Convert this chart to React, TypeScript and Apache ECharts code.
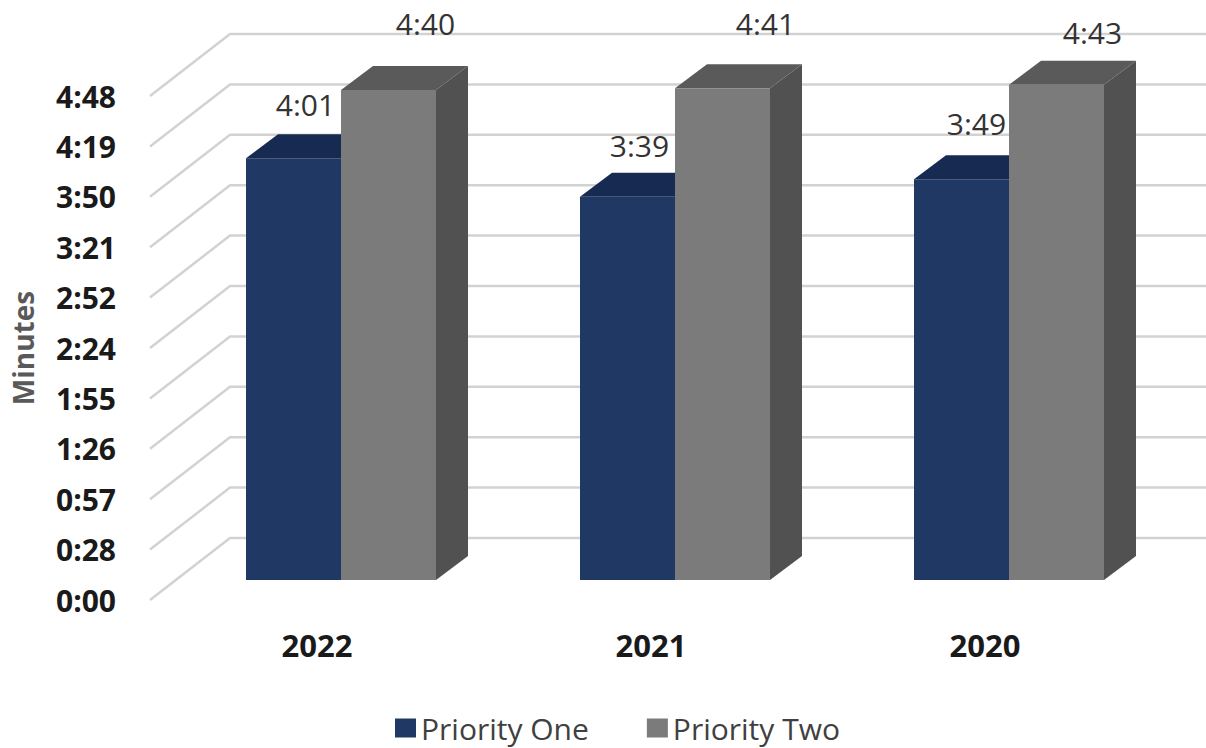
import React, { useEffect, useRef } from "react";
import * as echarts from "echarts";

const categories = ["2022", "2021", "2020"];
const priorityOneSeconds = [241, 219, 229];
const priorityTwoSeconds = [280, 281, 283];
const priorityOneLabels = ["4:01", "3:39", "3:49"];
const priorityTwoLabels = ["4:40", "4:41", "4:43"];
const tickLabels = ["0:00", "0:28", "0:57", "1:26", "1:55", "2:24", "2:52", "3:21", "3:50", "4:19", "4:48"];
const tickStep = 28.8;
const tickValues = tickLabels.map((_, i) => i * tickStep);

// Hand-placed data label nudges, relative to the top centre of each bar's front face
const priorityOneNudge = [[12, -54], [12, -51], [15, -56]];
const priorityTwoNudge = [[37, -67], [43, -65], [36, -52]];

const FONT = "'Open Sans', sans-serif";
const WALL_DX = 80;
const WALL_DY = -62;
const BAR_PLANE_DX = 24;
const BAR_PLANE_DY = -20;
const BAR_W = 95;
const BAR_DX = 32;
const BAR_DY = -24;

function barSeries(
  name: string,
  values: number[],
  labels: string[],
  nudges: number[][],
  side: number,
  colors: { front: string; top: string; side: string },
) {
  return {
    name,
    type: "custom",
    color: colors.front,
    itemStyle: { color: colors.front },
    z: 3 + side,
    data: values.map((v, i) => [i, v]),
    renderItem: (params: any, api: any) => {
      const i = api.value(0);
      const base = api.coord([i, 0]);
      const top = api.coord([i, api.value(1)]);
      const cx = base[0] + BAR_PLANE_DX;
      const x0 = cx + (side === 0 ? -BAR_W : 0);
      const x1 = x0 + BAR_W;
      const yb = base[1] + BAR_PLANE_DY;
      const yt = top[1] + BAR_PLANE_DY;
      const [nx, ny] = nudges[i];
      return {
        type: "group",
        children: [
          {
            type: "polygon",
            shape: { points: [[x0, yt], [x0 + BAR_DX, yt + BAR_DY], [x1 + BAR_DX, yt + BAR_DY], [x1, yt]] },
            style: { fill: colors.top },
          },
          {
            type: "polygon",
            shape: { points: [[x1, yt], [x1 + BAR_DX, yt + BAR_DY], [x1 + BAR_DX, yb + BAR_DY], [x1, yb]] },
            style: { fill: colors.side },
          },
          {
            type: "rect",
            shape: { x: x0, y: yt, width: BAR_W, height: yb - yt },
            style: { fill: colors.front },
          },
          {
            type: "text",
            z2: 10,
            style: {
              x: (x0 + x1) / 2 + nx,
              y: yt + ny,
              text: labels[i],
              align: "center",
              verticalAlign: "middle",
              fill: "#333333",
              font: `400 30px ${FONT}`,
            },
          },
        ],
      };
    },
  };
}

export default function App() {
  const ref = useRef<HTMLDivElement>(null);
  useEffect(() => {
    const chart = echarts.init(ref.current!, undefined, { renderer: "svg" });
    chart.setOption({
      animation: false,
      backgroundColor: "#ffffff",
      grid: { left: 150, right: 54, top: 96, bottom: 148, outerBoundsMode: "none" },
      legend: {
        left: 390,
        top: 708,
        icon: "rect",
        itemWidth: 21,
        itemHeight: 19,
        itemGap: 58,
        data: ["Priority One", "Priority Two"],
        textStyle: { fontFamily: FONT, fontSize: 30, color: "#404040" },
      },
      xAxis: {
        type: "category",
        data: categories,
        axisLine: { show: false },
        axisTick: { show: false },
        axisLabel: { color: "#1a1a1a", fontFamily: FONT, fontWeight: 700, fontSize: 31, margin: 29 },
      },
      yAxis: {
        type: "value",
        min: 0,
        max: tickStep * (tickLabels.length - 1),
        interval: tickStep,
        name: "Minutes",
        nameLocation: "middle",
        nameGap: 113,
        nameTextStyle: { color: "#595959", fontFamily: FONT, fontWeight: 700, fontSize: 28 },
        axisLine: { show: false },
        axisTick: { show: false },
        splitLine: { show: false },
        axisLabel: {
          color: "#1a1a1a",
          fontFamily: FONT,
          fontWeight: 700,
          fontSize: 30,
          margin: 34,
          formatter: (v: number) => tickLabels[Math.round(v / tickStep)],
        },
      },
      series: [
        {
          name: "wall",
          type: "custom",
          z: 1,
          silent: true,
          data: tickValues.map((v) => [0, v]),
          renderItem: (params: any, api: any) => {
            const sys = params.coordSys;
            const y = api.coord([0, api.value(1)])[1];
            return {
              type: "polyline",
              shape: {
                points: [
                  [sys.x, y],
                  [sys.x + WALL_DX, y + WALL_DY],
                  [sys.x + sys.width + 54, y + WALL_DY],
                ],
              },
              style: { fill: "none", stroke: "#d2d2d2", lineWidth: 2.5 },
            };
          },
        },
        barSeries("Priority One", priorityOneSeconds, priorityOneLabels, priorityOneNudge, 0, {
          front: "#203864",
          top: "#172b52",
          side: "#172b52",
        }),
        barSeries("Priority Two", priorityTwoSeconds, priorityTwoLabels, priorityTwoNudge, 1, {
          front: "#7b7b7b",
          top: "#5a5a5a",
          side: "#515151",
        }),
      ],
    });
    return () => chart.dispose();
  }, []);
  return <div ref={ref} style={{ position: "absolute", left: 0, top: 0, width: 1206, height: 748 }} />;
}
